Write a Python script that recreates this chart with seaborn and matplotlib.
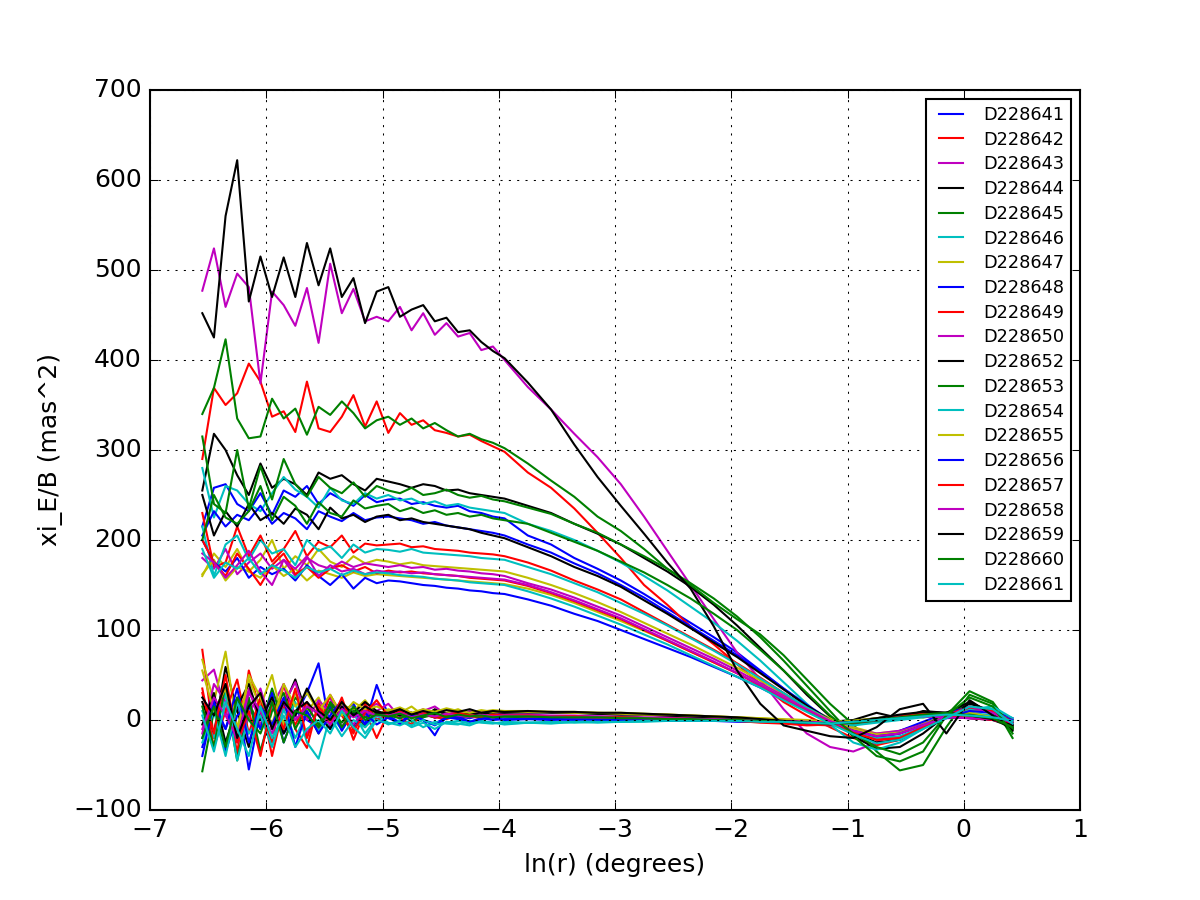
import numpy as np
import pandas as pd
import matplotlib
matplotlib.use("Agg")
import matplotlib.pyplot as plt
import seaborn as sns

# ln(r) bin centres (degrees)
x_bins = [-6.55, -6.45, -6.35, -6.25, -6.15, -6.05, -5.95, -5.85, -5.75, -5.65,
          -5.55, -5.45, -5.35, -5.25, -5.15, -5.05,
          -4.95, -4.85, -4.75, -4.65, -4.55, -4.45, -4.35, -4.25, -4.15, -4.05, -3.95,
          -3.75, -3.55, -3.35, -3.15, -2.95, -2.75, -2.55, -2.35, -2.15, -1.95, -1.75,
          -1.55, -1.35, -1.15, -0.95, -0.75, -0.55, -0.35, -0.15, 0.05, 0.25, 0.42]

exposures = ["D228641", "D228642", "D228643", "D228644", "D228645", "D228646",
             "D228647", "D228648", "D228649", "D228650", "D228652", "D228653",
             "D228654", "D228655", "D228656", "D228657", "D228658", "D228659",
             "D228660", "D228661"]

# E-mode correlation per exposure (mas^2)
xi_E = {
    "D228641": [215, 258, 262, 240, 232, 252, 228, 255, 248, 260, 240, 252, 245, 238, 250, 242,
                245, 246, 240, 242, 238, 236, 238, 232, 230, 226, 224,
                205, 195, 180, 168, 155, 140, 124, 108, 92, 75, 55, 35, 15, -2, -15, -20, -15, -5, 5, 12, 10, 0],
    "D228642": [290, 369, 350, 363, 396, 376, 337, 343, 320, 376, 324, 320, 337, 361, 326, 354,
                319, 341, 328, 333, 322, 319, 315, 317, 310, 304, 298,
                275, 258, 235, 208, 180, 150, 128, 104, 84, 62, 40, 20, 5, -8, -20, -28, -22, -8, 5, 15, 8, -5],
    "D228643": [477, 524, 459, 496, 481, 374, 476, 461, 438, 480, 419, 507, 452, 479, 443, 448,
                443, 459, 433, 452, 428, 441, 426, 430, 411, 415, 400,
                370, 345, 318, 292, 262, 226, 188, 150, 112, 75, 45, 12, -15, -30, -35, -25, -12, -4, 2, 12, 8, -5],
    "D228644": [255, 318, 300, 272, 250, 285, 258, 268, 262, 250, 275, 268, 272, 262, 255, 268,
                265, 262, 258, 262, 260, 255, 256, 252, 250, 248, 246,
                238, 230, 218, 207, 195, 180, 165, 148, 128, 105, 80, 55, 28, 4, -18, -32, -30, -15, 5, 18, 10, -8],
    "D228645": [340, 369, 423, 335, 313, 315, 357, 335, 346, 317, 348, 339, 354, 341, 324, 333,
                337, 328, 335, 324, 330, 322, 315, 318, 312, 308, 302,
                285, 266, 248, 226, 210, 190, 168, 150, 130, 112, 95, 72, 45, 18, -5, -35, -56, -50, -8, 28, 18, -20],
    "D228646": [280, 225, 260, 255, 240, 232, 252, 270, 256, 248, 236, 258, 244, 240, 252, 246,
                250, 244, 246, 240, 243, 238, 240, 236, 234, 232, 230,
                218, 210, 200, 188, 175, 160, 144, 126, 108, 88, 66, 42, 18, -5, -25, -33, -25, -10, 5, 15, 12, -3],
    "D228647": [160, 185, 170, 190, 165, 178, 200, 168, 182, 172, 190, 176, 170, 182, 174, 178,
                176, 173, 175, 172, 171, 170, 169, 168, 167, 166, 165,
                158, 150, 141, 131, 120, 108, 96, 84, 71, 58, 44, 29, 14, 2, -8, -15, -12, -4, 5, 12, 8, 0],
    "D228648": [205, 232, 215, 228, 222, 238, 218, 230, 224, 212, 232, 226, 221, 230, 222, 225,
                226, 224, 222, 218, 220, 216, 214, 212, 210, 208, 205,
                195, 186, 174, 163, 150, 136, 120, 104, 88, 72, 54, 35, 17, 0, -12, -18, -12, -2, 8, 14, 10, 2],
    "D228649": [230, 170, 175, 215, 182, 205, 176, 190, 210, 182, 198, 192, 205, 186, 196, 194,
                195, 196, 192, 193, 190, 189, 188, 186, 185, 184, 182,
                175, 166, 155, 145, 134, 120, 106, 92, 78, 63, 47, 30, 14, 0, -12, -22, -20, -8, 5, 15, 10, -3],
    "D228650": [180, 168, 190, 162, 175, 185, 168, 178, 160, 180, 172, 168, 176, 170, 174, 172,
                170, 172, 169, 170, 167, 168, 166, 165, 163, 162, 160,
                152, 145, 136, 126, 116, 104, 92, 80, 68, 55, 41, 27, 13, 0, -10, -15, -12, -5, 4, 12, 10, -2],
    "D228652": [250, 205, 232, 215, 240, 222, 230, 218, 235, 228, 212, 236, 224, 228, 220, 226,
                228, 222, 224, 220, 218, 216, 214, 212, 208, 205, 202,
                192, 182, 170, 160, 148, 133, 118, 102, 86, 70, 52, 34, 16, 0, -14, -25, -22, -8, 8, 20, 8, -10],
    "D228653": [315, 240, 230, 300, 235, 282, 245, 290, 262, 248, 270, 258, 252, 264, 248, 260,
                255, 252, 258, 250, 252, 256, 250, 247, 249, 245, 243,
                236, 229, 218, 208, 195, 182, 168, 152, 135, 115, 92, 66, 38, 10, -18, -40, -46, -35, 5, 32, 20, -10],
    "D228654": [215, 160, 195, 205, 178, 200, 185, 190, 172, 200, 188, 193, 180, 195, 186, 190,
                189, 187, 190, 186, 185, 184, 183, 182, 180, 179, 178,
                170, 162, 152, 142, 130, 118, 105, 91, 77, 62, 46, 30, 14, 0, -12, -20, -18, -8, 4, 12, 15, 2],
    "D228655": [162, 178, 155, 170, 165, 158, 172, 160, 168, 155, 166, 162, 158, 164, 160, 162,
                161, 160, 159, 158, 157, 156, 155, 154, 153, 152, 151,
                146, 139, 130, 120, 110, 99, 88, 76, 64, 52, 39, 25, 12, 0, -10, -16, -14, -6, 4, 10, 8, 0],
    "D228656": [200, 175, 165, 180, 158, 170, 162, 168, 155, 172, 160, 150, 162, 146, 158, 152,
                155, 154, 152, 150, 149, 147, 146, 144, 143, 141, 140,
                134, 127, 118, 110, 100, 90, 80, 70, 59, 48, 36, 23, 10, -2, -12, -18, -15, -6, 3, 10, 8, 0],
    "D228657": [200, 175, 160, 185, 168, 150, 172, 185, 162, 170, 158, 168, 172, 165, 170, 163,
                166, 164, 165, 163, 162, 161, 160, 158, 157, 156, 155,
                149, 141, 132, 122, 112, 100, 88, 76, 64, 52, 38, 24, 11, -2, -14, -22, -20, -8, 3, 14, 10, -2],
    "D228658": [185, 175, 158, 172, 188, 165, 150, 178, 168, 182, 160, 172, 165, 168, 162, 166,
                164, 165, 163, 164, 162, 161, 160, 159, 158, 157, 156,
                150, 142, 133, 123, 113, 101, 89, 77, 65, 52, 39, 25, 12, -1, -12, -18, -15, -6, 3, 15, 8, -4],
    "D228659": [452, 425, 560, 622, 465, 515, 470, 514, 470, 530, 483, 524, 470, 491, 441, 476,
                481, 448, 456, 461, 443, 447, 431, 433, 420, 410, 402,
                375, 345, 306, 270, 238, 207, 175, 146, 104, 55, 18, -6, -12, -18, -20, -8, 12, 18, -15, 22, 5, -12],
    "D228660": [200, 250, 225, 218, 232, 260, 222, 248, 238, 218, 242, 230, 226, 244, 235, 238,
                240, 232, 236, 230, 233, 228, 230, 226, 228, 224, 222,
                218, 208, 198, 188, 176, 164, 150, 135, 118, 100, 78, 55, 30, 5, -15, -30, -38, -25, 5, 25, 15, -15],
    "D228661": [190, 158, 175, 168, 180, 162, 172, 166, 158, 170, 164, 168, 161, 166, 162, 164,
                163, 161, 160, 159, 157, 156, 155, 153, 152, 151, 150,
                143, 135, 126, 116, 106, 95, 84, 72, 60, 48, 36, 22, 9, -4, -16, -26, -22, -10, 2, 15, 12, -4],
}

# B-mode correlation per exposure (mas^2)
xi_B = {
    "D228641": [-30, 15, -10, 25, -55, 10, 20, -15, 5, 30, 63, -10, 8, 18, -5, 39,
                5, -3, 8, 0, -17, 6, 4, 2, 5, 3, 4,
                3, 2, 3, 2, 2, 1, 1, 0, 0, 0, 0, 0, -1, -3, -5, -2, 3, 5, 2, 3, 4, 0],
    "D228642": [78, -20, 35, -37, 55, 10, -25, 40, -10, -31, 20, -5, 15, -22, 10, -20,
                8, 2, -5, 6, 3, 1, 5, 4, 2, 3, 5,
                4, 4, 3, 3, 2, 2, 1, 1, 0, -1, -2, -3, -4, -5, -3, 0, 5, 8, 6, 4, 2, -2],
    "D228643": [44, 56, 10, -20, 35, -5, 15, 40, 5, -15, 12, 25, -8, 14, 5, 10,
                18, 3, 6, 12, 2, 8, 4, 10, 3, 5, 6,
                5, 4, 3, 4, 3, 2, 2, 1, 1, 0, 0, 0, -2, -4, -1, 2, 4, 6, 3, 2, 1, -3],
    "D228644": [20, -15, 59, 10, -30, 25, -5, 15, 45, 5, -12, 18, 8, -6, 12, 6,
                10, 5, 8, 3, 12, 6, 9, 7, 10, 8, 9,
                8, 9, 8, 7, 7, 6, 5, 4, 3, 2, 0, -2, -3, -2, 0, 8, 2, 10, 8, 4, 0, -8],
    "D228645": [-57, 10, 30, -45, 20, -10, 35, -5, 25, 10, -15, 20, 5, 12, -8, 10,
                4, 8, -2, 6, 3, 5, 2, 4, 6, 3, 4,
                3, 4, 3, 3, 2, 2, 2, 1, 1, 0, 0, -1, -2, -3, -1, 2, 5, 3, 6, 8, 2, -10],
    "D228646": [10, -20, 30, -45, 5, -35, 15, -10, 20, -25, -43, 5, -10, 8, -15, 2,
                -5, 0, -8, -3, -10, -2, -4, -6, -1, -3, -5,
                -3, -4, -2, -3, -2, -2, -1, -1, 0, -1, -2, -3, -4, -6, -5, -2, 2, 4, 6, 8, 5, 0],
    "D228647": [67, 20, 76, -10, 45, 15, 50, -5, 30, 10, 25, -5, 18, 10, 22, 5,
                12, 8, 15, 5, 10, 8, 12, 6, 9, 11, 10,
                10, 9, 9, 8, 8, 7, 6, 5, 4, 3, 2, 0, -2, -3, -1, 2, 4, 3, 5, 8, 3, -2],
    "D228648": [-20, 25, -35, 5, 15, -10, 30, -25, 10, 0, -8, 15, -12, 10, -5, 8,
                2, -3, 5, 0, -4, 3, 1, -2, 2, 0, 1,
                1, 1, 0, 1, 0, 0, 0, 0, -1, -1, -1, -2, -3, -4, -2, 1, 4, 6, 5, 3, 1, -4],
    "D228649": [35, -30, 10, 45, -15, 25, -40, 15, -5, 20, -10, 28, 5, -15, 18, 0,
                6, 10, 2, 8, 5, 3, 7, 4, 6, 3, 5,
                4, 4, 3, 3, 3, 2, 2, 1, 0, -1, -2, -3, -5, -6, -4, -1, 3, 6, 4, 3, 1, -3],
    "D228650": [-15, 40, 20, -25, 5, 35, -10, 18, 42, 0, 22, 8, 15, -5, 12, 18,
                8, 12, 5, 10, 15, 6, 9, 7, 8, 10, 6,
                6, 5, 5, 4, 4, 3, 3, 2, 2, 1, 0, -1, -3, -4, -2, 1, 3, 5, 4, 3, 2, -2],
    "D228652": [-5, 30, -25, 15, 40, 0, 25, -15, 10, 20, 5, -10, 15, 8, 20, 10,
                6, 12, 8, 4, 10, 7, 5, 8, 6, 9, 8,
                9, 8, 8, 7, 6, 6, 5, 4, 3, 2, 1, 0, -2, -5, -3, 0, 3, 6, 8, 5, 2, -5],
    "D228653": [15, -30, 40, -20, 25, -35, 10, 30, -10, 15, -5, 18, -8, 10, 3, 8,
                5, 2, 7, 3, 6, 4, 8, 5, 3, 6, 4,
                4, 4, 3, 3, 3, 2, 2, 1, 1, 0, -1, -2, -3, -5, -4, -1, 2, 4, 5, 6, 2, -6],
    "D228654": [-25, 10, -40, 20, -15, 5, -30, 12, -20, 8, -12, 3, -18, 0, -8, 5,
                -3, -6, 0, -8, -2, -4, -5, -1, -3, -4, -2,
                -3, -2, -3, -2, -2, -1, -1, -1, 0, -1, -1, -2, -3, -4, -6, -3, 0, 3, 6, 4, 2, -2],
    "D228655": [55, 10, 35, -15, 50, 25, -5, 40, 15, 30, 10, 28, 5, 20, 12, 15,
                10, 14, 8, 12, 9, 13, 10, 8, 11, 9, 10,
                9, 9, 8, 8, 7, 6, 6, 5, 4, 3, 2, 1, 0, -2, -1, 1, 3, 5, 6, 4, 3, 0],
    "D228656": [-40, 20, -10, 35, -25, 15, -5, 25, -30, 10, -15, 5, 22, -10, 8, -5,
                3, -4, 6, 0, -6, 2, 4, -2, 1, 3, 0,
                1, 0, 1, 0, 0, 0, -1, -1, -1, -2, -2, -3, -4, -5, -3, 0, 3, 5, 4, 2, 0, -3],
    "D228657": [30, -15, 50, -25, 10, -40, 20, -10, 35, -20, 15, -5, 25, -12, 8, 22,
                4, 9, 2, 7, 3, 6, 8, 5, 4, 6, 5,
                5, 4, 4, 3, 3, 2, 2, 1, 0, -1, -3, -4, -6, -5, -3, 0, 4, 7, 5, 2, 0, -4],
    "D228658": [-10, 25, 5, -20, 30, 10, -15, 20, 0, 15, 8, -5, 12, 3, 10, 5,
                5, 8, 3, 6, 4, 7, 5, 3, 6, 4, 5,
                4, 4, 3, 3, 2, 2, 2, 1, 1, 0, 0, -1, -2, -3, -2, 0, 3, 4, 3, 2, 1, -1],
    "D228659": [25, 5, 40, -20, 15, 30, -10, 20, 5, 35, 10, 0, 20, 5, 15, 8,
                8, 12, 6, 10, 7, 11, 9, 12, 8, 10, 9,
                10, 9, 9, 8, 8, 7, 6, 5, 4, 3, 1, -1, -3, -4, -2, 2, 6, 9, 8, 5, 1, -6],
    "D228660": [-20, 15, -30, 25, 0, -15, 20, -25, 10, 5, -8, 12, -3, 15, 0, 6,
                4, 7, 2, 5, 8, 3, 6, 4, 5, 3, 4,
                4, 3, 3, 3, 2, 2, 1, 1, 0, 0, -1, -2, -3, -4, -3, 0, 3, 6, 8, 5, 2, -8],
    "D228661": [5, -35, 20, -10, -40, 15, -20, 5, -30, -10, 0, -15, 10, -8, -20, 0,
                -4, -2, -6, 0, -5, -3, -1, -4, -2, -3, -4,
                -3, -3, -2, -2, -2, -1, -1, -1, -1, -1, -2, -2, -3, -4, -2, 0, 2, 4, 6, 5, 3, -1],
}

# old matplotlib colour cycle
cycle = ["b", "r", "m", "k", "g", "c", "y"]

plt.style.use("classic")
fig, ax = plt.subplots(figsize=(8, 6), dpi=150)
fig.patch.set_facecolor("white")

for i, name in enumerate(exposures):
    col = cycle[i % len(cycle)]
    df = pd.DataFrame({"lnr": x_bins, "E": xi_E[name], "B": xi_B[name]})
    sns.lineplot(data=df, x="lnr", y="E", color=col, label=name,
                 estimator=None, sort=False, linewidth=1.0, ax=ax)
    sns.lineplot(data=df, x="lnr", y="B", color=col,
                 estimator=None, sort=False, linewidth=1.0, legend=False, ax=ax)

ax.set_xlim(-7, 1)
ax.set_ylim(-100, 700)
ax.grid(True)
ax.set_xlabel("ln(r) (degrees)")
ax.set_ylabel("xi_E/B (mas^2)")
ax.legend(loc="upper right", fontsize=8.5, labelspacing=0.38)

fig.savefig("out.png", dpi=150, facecolor="white")
